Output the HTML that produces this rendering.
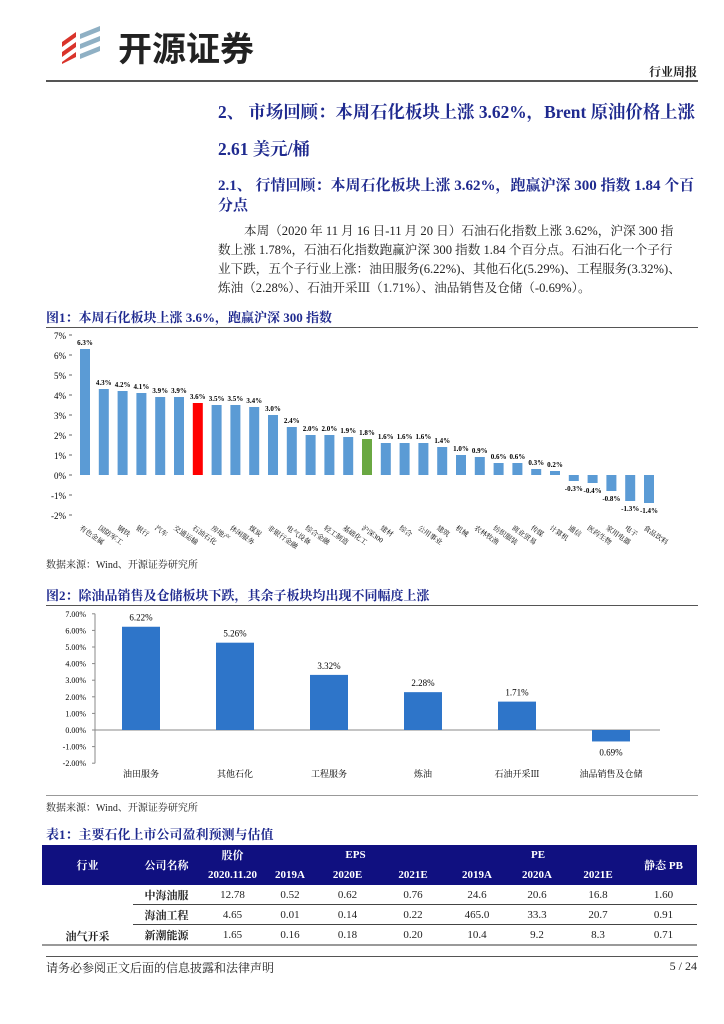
<!DOCTYPE html>
<html><head><meta charset="utf-8">
<style>
body{margin:0;width:724px;height:1024px;background:#fff;position:relative;overflow:hidden;font-family:"Liberation Serif","Noto Serif CJK SC",serif;color:#222}
.a{position:absolute;white-space:nowrap}
.blue{color:#1f2a8f;font-weight:bold}
.cap{color:#1f2a8f;font-weight:bold;font-size:13px}
.hl{position:absolute;height:1px;background:#555}
table{border-collapse:collapse;position:absolute;left:42px;top:845px;width:655px;font-size:11px}
th{background:#101080;color:#fff;font-weight:bold;height:20px;padding:0;font-family:"Liberation Serif","Noto Serif CJK SC",serif}
td{height:19px;padding:0;text-align:center;border-bottom:1px solid #444}
</style></head><body>
<svg class="a" style="left:60px;top:24px" width="52" height="40">
<path d="M2 18 L16 8 L16 13 L2 23Z M2 28 L16 18 L16 23 L2 33Z M2 38 L16 28 L16 33 L2 40Z" fill="#d9342b"/>
<path d="M20 10 L40 2 L40 7 L20 15Z M20 20 L40 12 L40 17 L20 25Z M20 30 L40 22 L40 27 L20 35Z" fill="#8fb0c4"/>
</svg>
<div class="a" style="left:118px;top:22px;font-size:34px;font-weight:bold;font-family:'Noto Sans CJK SC',sans-serif;color:#222">开源证券</div>
<div class="a" style="right:27px;top:63px;font-size:12px;font-weight:bold">行业周报</div>
<div class="hl" style="left:46px;width:652px;top:80px;height:2px"></div>
<div class="a blue" style="left:218px;top:98px;font-size:17.4px">2、 市场回顾：本周石化板块上涨 3.62%，Brent 原油价格上涨</div>
<div class="a blue" style="left:218px;top:135px;font-size:17.4px">2.61 美元/桶</div>
<div class="a blue" style="left:218px;top:174px;font-size:15px">2.1、 行情回顾：本周石化板块上涨 3.62%，跑赢沪深 300 指数 1.84 个百</div>
<div class="a blue" style="left:218px;top:194px;font-size:15px">分点</div>
<div class="a" style="left:218px;top:222px;font-size:12.6px;line-height:19px;width:480px;white-space:normal">
<div style="text-indent:26px">本周（2020 年 11 月 16 日-11 月 20 日）石油石化指数上涨 3.62%，沪深 300 指</div>
<div>数上涨 1.78%，石油石化指数跑赢沪深 300 指数 1.84 个百分点。石油石化一个子行</div>
<div>业下跌，五个子行业上涨：油田服务(6.22%)、其他石化(5.29%)、工程服务(3.32%)、</div>
<div>炼油（2.28%）、石油开采Ⅲ（1.71%）、油品销售及仓储（-0.69%）。</div></div>
<div class="a cap" style="left:46px;top:307px">图1：本周石化板块上涨 3.6%，跑赢沪深 300 指数</div>
<div class="hl" style="left:46px;width:652px;top:327px"></div>
<svg id="c1" class="a" style="left:0;top:328px" width="724" height="225"></svg>
<div class="a" style="left:46px;top:556px;font-size:10px">数据来源：Wind、开源证券研究所</div>
<div class="a cap" style="left:46px;top:585px">图2：除油品销售及仓储板块下跌，其余子板块均出现不同幅度上涨</div>
<div class="hl" style="left:46px;width:652px;top:605px"></div>
<svg id="c2" class="a" style="left:0;top:606px" width="724" height="190"></svg>
<div class="hl" style="left:46px;width:652px;top:795px;background:#999"></div>
<div class="a" style="left:46px;top:799px;font-size:10px">数据来源：Wind、开源证券研究所</div>
<div class="a cap" style="left:46px;top:824px">表1：主要石化上市公司盈利预测与估值</div>
<table>
<tr><th rowspan="2" style="width:91px">行业</th><th rowspan="2" style="width:67px">公司名称</th><th style="width:65px">股价</th><th colspan="3">EPS</th><th colspan="3">PE</th><th rowspan="2">静态 PB</th></tr>
<tr><th>2020.11.20</th><th style="width:50px">2019A</th><th style="width:65px">2020E</th><th style="width:66px">2021E</th><th style="width:62px">2019A</th><th style="width:58px">2020A</th><th style="width:64px">2021E</th></tr>
<tr><td rowspan="3" style="vertical-align:bottom;font-weight:bold;border-bottom:2px solid #999">油气开采</td><td><b>中海油服</b></td><td>12.78</td><td>0.52</td><td>0.62</td><td>0.76</td><td>24.6</td><td>20.6</td><td>16.8</td><td>1.60</td></tr>
<tr><td><b>海油工程</b></td><td>4.65</td><td>0.01</td><td>0.14</td><td>0.22</td><td>465.0</td><td>33.3</td><td>20.7</td><td>0.91</td></tr>
<tr><td style="border-bottom:2px solid #999"><b>新潮能源</b></td><td style="border-bottom:2px solid #999">1.65</td><td style="border-bottom:2px solid #999">0.16</td><td style="border-bottom:2px solid #999">0.18</td><td style="border-bottom:2px solid #999">0.20</td><td style="border-bottom:2px solid #999">10.4</td><td style="border-bottom:2px solid #999">9.2</td><td style="border-bottom:2px solid #999">8.3</td><td style="border-bottom:2px solid #999">0.71</td></tr>
</table>
<div class="hl" style="left:46px;width:652px;top:956px"></div>
<div class="a" style="left:46px;top:959px;font-size:12px">请务必参阅正文后面的信息披露和法律声明</div>
<div class="a" style="right:27px;top:959px;font-size:12px">5 / 24</div>
<script>
const cats1=["有色金属","国防军工","钢铁","银行","汽车","交通运输","石油石化","房地产","休闲服务","煤炭","非银行金融","电气设备","综合金融","轻工制造","基础化工","沪深300","建材","综合","公用事业","建筑","机械","农林牧渔","纺织服装","商业贸易","传媒","计算机","通信","医药生物","家用电器","电子","食品饮料"];
const vals1=[6.3,4.3,4.2,4.1,3.9,3.9,3.6,3.5,3.5,3.4,3.0,2.4,2.0,2.0,1.9,1.8,1.6,1.6,1.6,1.4,1.0,0.9,0.6,0.6,0.3,0.2,-0.3,-0.4,-0.8,-1.3,-1.4];
const ticks1=[7,6,5,4,3,2,1,0,-1,-2];
const cats2=["油田服务","其他石化","工程服务","炼油","石油开采Ⅲ","油品销售及仓储"];
const vals2=[6.22,5.26,3.32,2.28,1.71,-0.69];
const ticks2=[7,6,5,4,3,2,1,0,-1,-2];
const NS="http://www.w3.org/2000/svg";
function mk(p,t,a,txt){const e=document.createElementNS(NS,t);for(const k in a)e.setAttribute(k,a[k]);if(txt!=null)e.textContent=txt;p.appendChild(e);return e;}
(function(){
const s=document.getElementById('c1');
const y=v=>147-v*20; const x=i=>85+i*18.8;
ticks1.forEach(t=>{const l=mk(s,'text',{x:66,y:y(t)+4,'font-size':9,'text-anchor':'end'},t+'%');


mk(s,'line',{x1:69,x2:72,y1:y(t),y2:y(t),stroke:'#666'});});
vals1.forEach((v,i)=>{const c=cats1[i]=="石油石化"?"#ff0000":cats1[i]=="沪深300"?"#6aa842":"#5b9bd5";
const r=mk(s,'rect',{x:x(i)-5,y:Math.min(y(v),y(0)),width:10,height:Math.abs(v)*20,fill:c});


const ly=v>=0?y(v)-4:y(v)+10;
const t=mk(s,'text',{x:x(i),y:ly,'font-size':7,'font-weight':'bold','text-anchor':'middle'},v.toFixed(1)+'%');


const c2=mk(s,'text',{x:x(i)-6,y:y(-2)+14,'font-size':7,transform:`rotate(35 ${x(i)-6} ${y(-2)+14})`},cats1[i]);

});
})();
(function(){
const s=document.getElementById('c2');
const y=v=>124-v*16.6; const x=i=>141+i*94;
ticks2.forEach(t=>{const l=mk(s,'text',{x:86,y:y(t)+3,'font-size':8,'text-anchor':'end'},t.toFixed(2)+'%');


mk(s,'line',{x1:92,x2:95,y1:y(t),y2:y(t),stroke:'#888'});});
mk(s,'line',{x1:95,x2:95,y1:y(7),y2:y(-2),stroke:'#888'});
mk(s,'line',{x1:95,x2:660,y1:y(0),y2:y(0),stroke:'#888'});
vals2.forEach((v,i)=>{
const r=mk(s,'rect',{x:x(i)-19,y:Math.min(y(v),y(0)),width:38,height:Math.abs(v)*16.6,fill:'#2e75c9'});


const ly=v>=0?y(v)-6:y(v)+14;
const t=mk(s,'text',{x:x(i),y:ly,'font-size':9,'text-anchor':'middle'},Math.abs(v).toFixed(2)+'%');


const c=mk(s,'text',{x:x(i),y:171,'font-size':9,'text-anchor':'middle'},cats2[i]);

});
})();
</script>
</body></html>
